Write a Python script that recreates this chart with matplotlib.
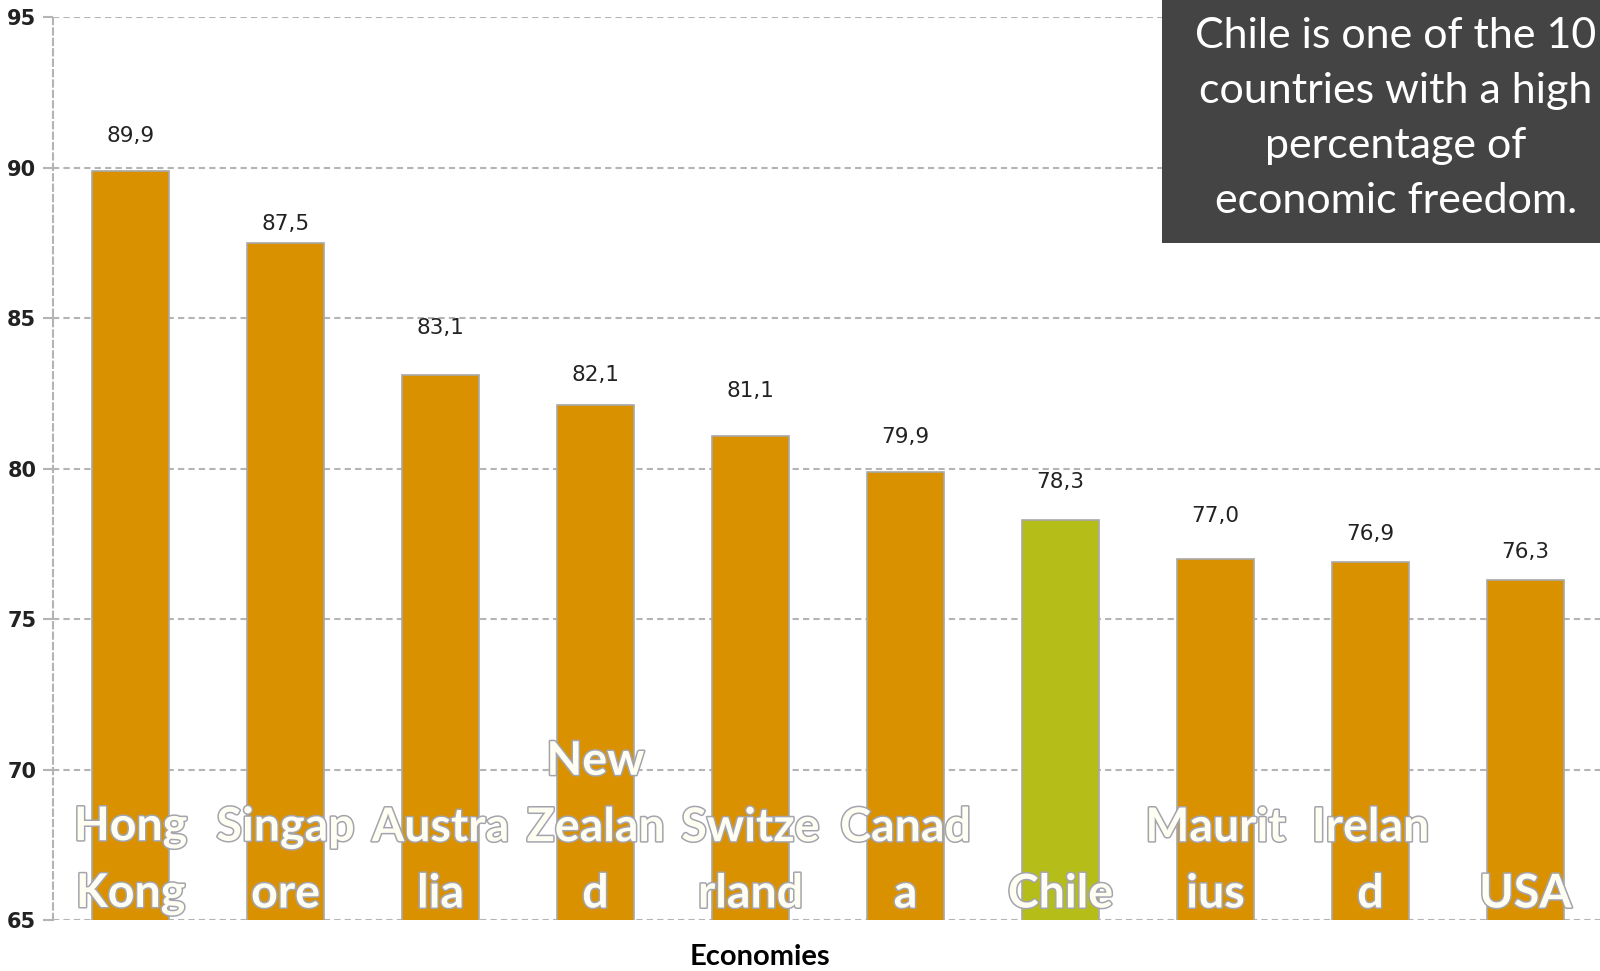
import matplotlib.pyplot as plt
import matplotlib.patheffects as pe
from matplotlib.patches import Rectangle

# Economic freedom index, top 10 economies
economias = ["Hong Kong", "Singapore", "Australia", "New Zealand", "Switzerland",
             "Canada", "Chile", "Mauritius", "Ireland", "USA"]
# etiquetas tal como se cortan dentro de la barra
etiquetas = ["Hong\nKong", "Singap\nore", "Austra\nlia", "New\nZealan\nd", "Switze\nrland",
             "Canad\na", "Chile", "Maurit\nius", "Irelan\nd", "USA"]
puntajes = [89.9, 87.5, 83.1, 82.1, 81.1, 79.9, 78.3, 77.0, 76.9, 76.3]
destacado = "Chile"

# separacion (en puntos) de cada valor sobre su barra
elevacion = [25, 14, 34, 22, 32, 25, 27, 31, 20, 20]

naranja = "#DA9100"
verde = "#B5BE19"

fig = plt.figure(figsize=(16, 9.71), dpi=100)
ax = fig.add_axes([53 / 1600, 1 - 920 / 971, 1550 / 1600, (920 - 17.3) / 971])

colores = [verde if e == destacado else naranja for e in economias]
x = list(range(len(economias)))
barras = ax.bar(x, puntajes, width=0.5, bottom=0, color=colores,
                edgecolor="#a8a8a8", linewidth=1.2, zorder=2)

ax.set_ylim(65, 95)
ax.set_xlim(-0.5, len(economias) - 0.5)
ax.set_yticks([65, 70, 75, 80, 85, 90, 95])
ax.set_xticks([])

# grilla punteada
ax.set_axisbelow(True)
ax.yaxis.grid(True, linestyle=(0, (3, 2)), color="#b4b4b4", linewidth=1.5)
for lado in ["top", "right", "bottom"]:
    ax.spines[lado].set_visible(False)
ax.spines["left"].set_linestyle((0, (3, 2)))
ax.spines["left"].set_color("#b4b4b4")
ax.spines["left"].set_linewidth(1.5)
ax.tick_params(axis="y", length=7, width=1.5, color="#b4b4b4", pad=5,
               labelsize=15, labelcolor="#222222")
for t in ax.get_yticklabels():
    t.set_fontweight("bold")

# valores sobre cada barra (coma decimal)
for xi, v, d in zip(x, puntajes, elevacion):
    ax.annotate(f"{v:.1f}".replace(".", ","), (xi, v), xytext=(0, d),
                textcoords="offset points", ha="center", va="center",
                fontsize=15.5, color="#222222", zorder=4)

# nombres dentro de las barras, blanco con borde gris
for xi, et in zip(x, etiquetas):
    ax.text(xi, 65.15, et, ha="center", va="bottom", multialignment="center",
            fontsize=33.5, fontweight="bold", family="Lato", color="#FFFEF2",
            linespacing=1.62, zorder=5,
            path_effects=[pe.Stroke(linewidth=2.2, foreground="#a4a4ae"), pe.Normal()])

fig.text(760 / 1600, 1 - 957 / 971, "Economies", ha="center", va="center",
         fontsize=21, fontweight="bold", family="Lato", color="black")

# recuadro con el comentario
fig.patches.append(Rectangle((1162 / 1600, 1 - 243 / 971), 440 / 1600, 243 / 971,
                             transform=fig.transFigure, facecolor="#444444",
                             edgecolor="none", zorder=10))
fig.text(1396 / 1600, 1 - 118.5 / 971,
         "Chile is one of the 10\ncountries with a high\npercentage of\neconomic freedom.",
         ha="center", va="center", multialignment="center", fontsize=31,
         family="Lato", color="white", linespacing=1.55, zorder=11)

fig.savefig("out.png", dpi=100)
